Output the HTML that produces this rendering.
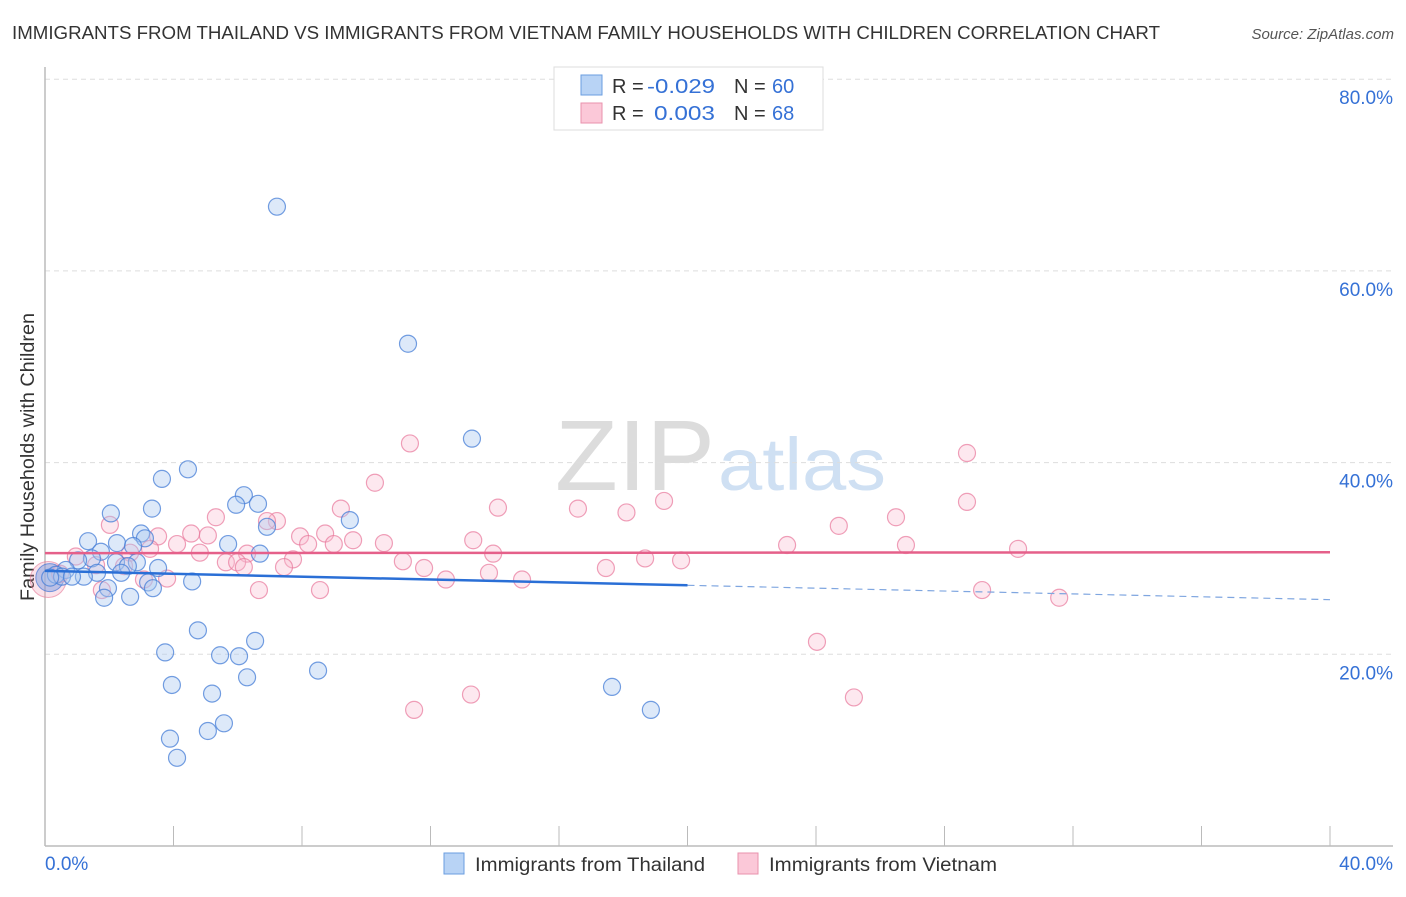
<!DOCTYPE html>
<html><head><meta charset="utf-8"><style>
body{margin:0;background:#fff;font-family:"Liberation Sans",sans-serif;}
svg text{font-family:"Liberation Sans",sans-serif;}
</style></head><body>
<svg id="chart" width="1406" height="892" xmlns="http://www.w3.org/2000/svg">
<text x="12" y="39" font-size="18" fill="#333" textLength="1148" lengthAdjust="spacingAndGlyphs">IMMIGRANTS FROM THAILAND VS IMMIGRANTS FROM VIETNAM FAMILY HOUSEHOLDS WITH CHILDREN CORRELATION CHART</text>
<text x="1394" y="39" font-size="15" fill="#555" text-anchor="end" font-style="italic">Source: ZipAtlas.com</text>
<text transform="translate(34,457) rotate(-90)" font-size="19" fill="#333" text-anchor="middle" textLength="288" lengthAdjust="spacingAndGlyphs">Family Households with Children</text>
<text x="555" y="490" font-size="100" fill="#dcdcdc" font-family="Liberation Serif" textLength="160" lengthAdjust="spacingAndGlyphs">ZIP</text>
<text x="718" y="490" font-size="74" fill="#cfe0f3" textLength="168" lengthAdjust="spacingAndGlyphs">atlas</text>
<g id="grid"></g><g id="marks"></g>
<g>
<rect x="554" y="67" width="269" height="63" fill="#fff" stroke="#ddd"/>
<rect x="581" y="75" width="21" height="20" fill="#b8d3f5" stroke="#6a9ee0"/>
<rect x="581" y="103" width="21" height="20" fill="#fbc8d8" stroke="#e892ad"/>
<text x="612" y="93" font-size="20" fill="#333">R = <tspan fill="#3571d6" x="647" textLength="68" lengthAdjust="spacingAndGlyphs">-0.029</tspan><tspan x="734">N = </tspan><tspan fill="#3571d6" x="772">60</tspan></text>
<text x="612" y="120" font-size="20" fill="#333">R = <tspan fill="#3571d6" x="654" textLength="61" lengthAdjust="spacingAndGlyphs">0.003</tspan><tspan x="734">N = </tspan><tspan fill="#3571d6" x="772">68</tspan></text>
</g>
<g>
<rect x="444" y="853" width="20" height="21" fill="#b8d3f5" stroke="#6a9ee0"/>
<text x="475" y="871" font-size="19" fill="#333" textLength="230" lengthAdjust="spacingAndGlyphs">Immigrants from Thailand</text>
<rect x="738" y="853" width="20" height="21" fill="#fbc8d8" stroke="#e892ad"/>
<text x="769" y="871" font-size="19" fill="#333" textLength="228" lengthAdjust="spacingAndGlyphs">Immigrants from Vietnam</text>
</g>
</svg>
<script>
const yTicks=[20,40,60,80];
const xTickLabels=["0.0%","40.0%"];
const thaiX=[7.22,11.30,13.29,4.45,3.64,6.19,6.63,5.95,3.33,2.05,9.49,6.91,2.99,3.11,1.34,2.24,5.70,2.74,1.74,6.69,1.46,1.03,2.21,2.86,2.58,3.52,0.65,1.62,2.37,0.34,1.21,0.53,0.84,0.16,3.21,4.58,3.36,1.96,1.84,2.65,4.76,6.54,3.74,5.45,6.04,8.50,6.29,3.95,5.20,17.65,5.57,5.07,3.89,4.11,18.86];
const thaiY=[66.7,52.4,42.5,39.3,38.3,36.6,35.7,35.6,35.2,34.7,34.0,33.3,32.6,32.1,31.8,31.6,31.5,31.3,30.7,30.5,30.0,29.8,29.6,29.6,29.2,29.0,28.8,28.5,28.5,28.3,28.1,28.1,28.1,28.0,27.5,27.6,26.9,26.9,25.9,26.0,22.5,21.4,20.2,19.9,19.8,18.3,17.6,16.8,15.9,16.6,12.8,12.0,11.2,9.2,14.2];
const vietX=[11.36,28.70,10.27,19.27,28.70,14.10,16.59,9.21,18.10,26.49,5.32,2.02,7.22,6.91,24.71,8.72,3.52,4.55,5.07,7.94,13.33,9.59,10.55,4.11,8.19,8.99,23.10,26.80,30.29,3.27,2.65,4.82,13.95,6.29,18.68,7.72,19.80,0.96,11.14,5.63,5.98,1.59,2.46,6.19,7.44,11.80,17.46,13.82,0.47,3.80,3.08,12.48,14.85,1.77,6.66,8.56,29.17,31.57,24.03,13.26,25.18,11.49];
const vietY=[42.0,41.0,37.9,36.0,35.9,35.3,35.2,35.2,34.8,34.3,34.3,33.5,33.9,33.9,33.4,32.6,32.3,32.6,32.4,32.3,31.9,31.9,31.6,31.5,31.5,31.5,31.4,31.4,31.0,31.0,30.6,30.6,30.5,30.5,30.0,29.9,29.8,30.2,29.7,29.6,29.6,29.3,29.2,29.1,29.1,29.0,29.0,28.5,28.4,27.9,27.8,27.8,27.8,26.7,26.7,26.7,26.7,25.9,21.3,15.8,15.5,14.2];
const thaiTrend=[28.7,25.7];
const vietTrend=[30.55,30.65];
const NS="http://www.w3.org/2000/svg";
const sx=v=>45+v/40*1285, sy=v=>846-v/20*191.7;
function mk(t,a,p){const e=document.createElementNS(NS,t);for(const k in a)e.setAttribute(k,a[k]);p.appendChild(e);return e;}
const g=document.getElementById('grid'), m=document.getElementById('marks');
yTicks.forEach(t=>{
 const l=mk('line',{x1:45,x2:1393,y1:sy(t),y2:sy(t),stroke:'#ddd','stroke-dasharray':'5,4'},g);
 
 
 const tx=mk('text',{x:1393,y:sy(t)+25,'font-size':19,fill:'#3571d6','text-anchor':'end'},g);tx.textContent=t.toFixed(1)+'%';
 
 
});
const ax=mk('line',{x1:45,x2:1393,y1:846,y2:846,stroke:'#bbb','stroke-width':1.5},g);


const ay=mk('line',{x1:45,x2:45,y1:67,y2:846,stroke:'#bbb','stroke-width':1.5},g);


for(let i=1;i<=10;i++){const tk=mk('line',{x1:sx(i*4),x2:sx(i*4),y1:826,y2:846,stroke:'#bbb'},g);
 
 }
[[0,'start',45],[40,'end',1393]].forEach((d,i)=>{const tx=mk('text',{x:d[2],y:870,'font-size':19,fill:'#3571d6','text-anchor':d[1]},g);tx.textContent=xTickLabels[i];
 
 });
const bb=mk('circle',{cx:sx(0.1),cy:sy(27.8),r:18,fill:'rgba(240,140,170,0.25)',stroke:'rgba(230,120,150,0.6)'},m);


const bt=mk('circle',{cx:sx(0.15),cy:sy(28),r:14,fill:'rgba(110,150,225,0.45)',stroke:'rgba(70,120,215,0.7)'},m);


vietX.forEach((x,i)=>{const c=mk('circle',{cx:sx(x),cy:sy(vietY[i]),r:8.5,fill:'rgba(248,190,208,0.35)',stroke:'rgba(232,120,155,0.7)','stroke-width':1.2},m);
 
 });
thaiX.forEach((x,i)=>{const c=mk('circle',{cx:sx(x),cy:sy(thaiY[i]),r:8.5,fill:'rgba(170,200,240,0.4)',stroke:'rgba(70,125,215,0.75)','stroke-width':1.2},m);
 
 });
const ty=x=>thaiTrend[0]+(thaiTrend[1]-thaiTrend[0])*x/40;
const l1=mk('line',{x1:sx(0),y1:sy(ty(0)),x2:sx(20),y2:sy(ty(20)),stroke:'#2a6fd6','stroke-width':2.5},m);


const l2=mk('line',{x1:sx(20),y1:sy(ty(20)),x2:sx(40),y2:sy(ty(40)),stroke:'#7fa6e0','stroke-width':1.2,'stroke-dasharray':'7,5'},m);


const l3=mk('line',{x1:sx(0),y1:sy(vietTrend[0]),x2:sx(40),y2:sy(vietTrend[1]),stroke:'#e5608a','stroke-width':2.5},m);


</script>
</body></html>
